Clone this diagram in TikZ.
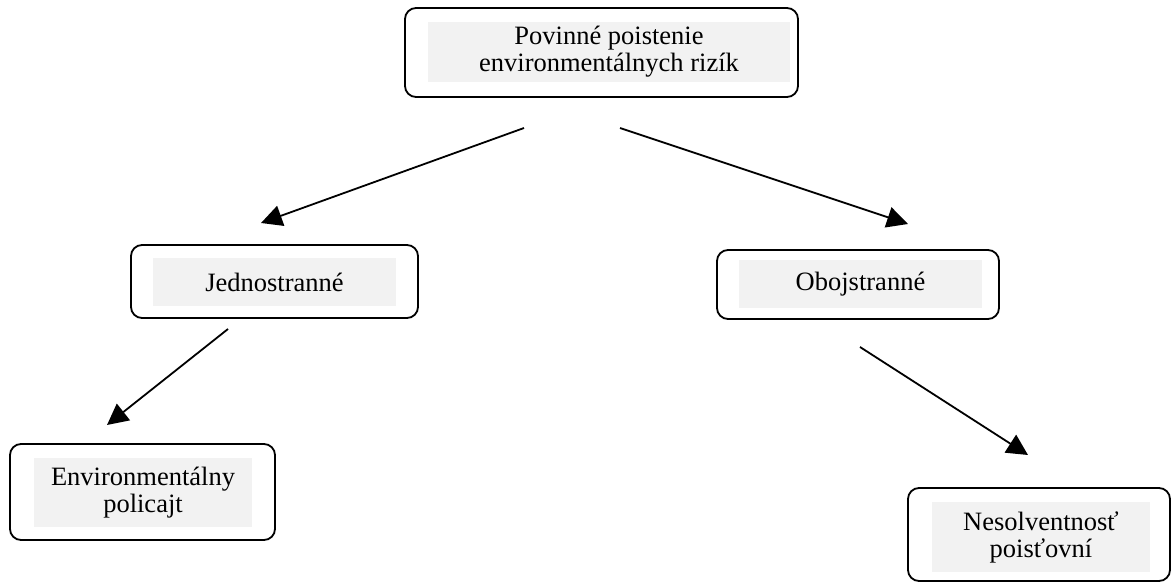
\documentclass[tikz,border=0pt]{standalone}
\usepackage{fontspec}
\setmainfont{Liberation Serif}
\usetikzlibrary{arrows.meta}
\begin{document}
\begin{tikzpicture}[x=1pt,y=-1pt,
  outerbox/.style={draw, line width=1.8pt, rounded corners=11pt, inner sep=0pt},
  innerbox/.style={fill=gray!10, inner sep=0pt, align=center,
    font=\fontsize{26.5}{27}\selectfont},
  arr/.style={line width=1.8pt, -{Triangle[length=21pt,width=21pt]}}]
\useasboundingbox (0,0) rectangle (1172,583);
% top
\node[outerbox, minimum width=393pt, minimum height=89pt] (topo) at (601.5,52.5) {};
\node[innerbox, minimum width=362pt, minimum height=60pt] (top) at (609,52) {Povinné poistenie\\environmentálnych rizík};
% left mid
\node[outerbox, minimum width=287pt, minimum height=73pt] (jedo) at (274.5,281.5) {};
\node[innerbox, minimum width=243pt, minimum height=48pt] (jed) at (274.5,282) {Jednostranné};
% right mid
\node[outerbox, minimum width=282pt, minimum height=69pt] (oboo) at (858,284.5) {};
\node[innerbox, minimum width=243pt, minimum height=48pt] (obo) at (860.5,284) {Obojstranné};
% bottom left
\node[outerbox, minimum width=265pt, minimum height=96pt] (envo) at (142.5,492) {};
\node[innerbox, minimum width=218pt, minimum height=69pt] (env) at (143,492.5) {Environmentálny\\policajt};
% bottom right
\node[outerbox, minimum width=262pt, minimum height=93pt] (neso) at (1039,534.5) {};
\node[innerbox, minimum width=218pt, minimum height=70pt] (nes) at (1041,537) {Nesolventnosť\\poisťovní};
% arrow coordinates
\coordinate (a1s) at (524,128);
\coordinate (a1e) at (261,223);
\coordinate (a2s) at (620,128);
\coordinate (a2e) at (908,224);
\coordinate (a3s) at (228,329);
\coordinate (a3e) at (107,425);
\coordinate (a4s) at (860,347);
\coordinate (a4e) at (1028,455);
\draw[arr] (a1s) -- (a1e);
\draw[arr] (a2s) -- (a2e);
\draw[arr] (a3s) -- (a3e);
\draw[arr] (a4s) -- (a4e);
\end{tikzpicture}
\end{document}
